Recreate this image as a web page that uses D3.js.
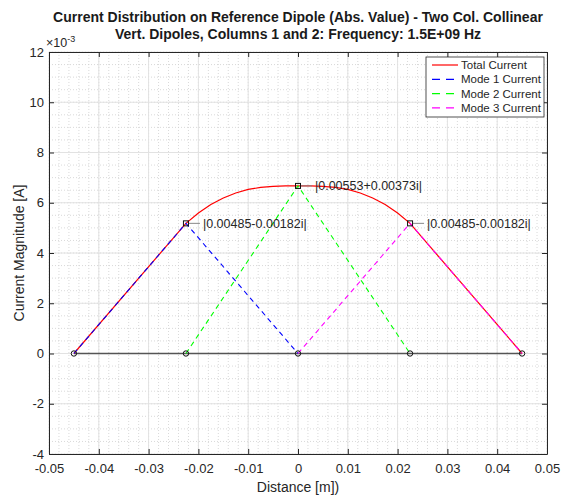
<!DOCTYPE html>
<html>
<head>
<meta charset="utf-8">
<script src="https://cdn.jsdelivr.net/npm/d3@7"></script>
<style>
body { margin: 0; background: #fff; }
text { font-family: "Liberation Sans", Arial, sans-serif; }
</style>
</head>
<body>
<div id="chart"></div>
<script>
var width = 562;
var height = 498;

// values (current in units of 1e-3 A)
var totalX = [-0.045, -0.0225, -0.02, -0.0175, -0.015, -0.0125, -0.01, -0.0075, -0.005, -0.0025, 0,
              0.0025, 0.005, 0.0075, 0.01, 0.0125, 0.015, 0.0175, 0.02, 0.0225, 0.045];
var totalY = [0, 5.18, 5.59, 5.93, 6.19, 6.39, 6.53, 6.61, 6.65, 6.67, 6.67,
              6.67, 6.65, 6.61, 6.53, 6.39, 6.19, 5.93, 5.59, 5.18, 0];
var mode1X = [-0.045, -0.0225, 0];
var mode1Y = [0, 5.18, 0];
var mode2X = [-0.0225, 0, 0.0225];
var mode2Y = [0, 6.67, 0];
var mode3X = [0, 0.0225, 0.045];
var mode3Y = [0, 5.18, 0];
var nodeX = [-0.045, -0.0225, 0, 0.0225, 0.045];
var peakX = [-0.0225, 0, 0.0225];
var peakY = [5.18, 6.67, 5.18];
var peakLabels = ["|0.00485-0.00182i|", "|0.00553+0.00373i|", "|0.00485-0.00182i|"];
var legendNames = ["Total Current", "Mode 1 Current", "Mode 2 Current", "Mode 3 Current"];
var legendColors = ["#ff0000", "#0000ff", "#00ff00", "#ff00ff"];
var xTicks = [-0.05, -0.04, -0.03, -0.02, -0.01, 0, 0.01, 0.02, 0.03, 0.04, 0.05];
var yTicks = [-4, -2, 0, 2, 4, 6, 8, 10, 12];

var pLeft = 49, pRight = 547, pTop = 52, pBottom = 454;

var xScale = d3.scaleLinear().domain([-0.05, 0.05]).range([pLeft, pRight]);
var yScale = d3.scaleLinear().domain([-4, 12]).range([pBottom, pTop]);

var svg = d3.select("#chart").append("svg")
    .attr("width", width)
    .attr("height", height);

// minor grid
var xMinor = d3.range(-50, 51, 2).map(function(d) { return d / 1000; });
var yMinor = d3.range(-8, 25, 1).map(function(d) { return d / 2; });
svg.append("g").selectAll("line").data(xMinor).enter().append("line")
    .attr("x1", function(d) { return xScale(d); })
    .attr("x2", function(d) { return xScale(d); })
    .attr("y1", pTop).attr("y2", pBottom)
    .attr("stroke", "#cfcfcf").attr("stroke-width", 0.8)
    .attr("stroke-dasharray", "1,2");
svg.append("g").selectAll("line").data(yMinor).enter().append("line")
    .attr("y1", function(d) { return yScale(d); })
    .attr("y2", function(d) { return yScale(d); })
    .attr("x1", pLeft).attr("x2", pRight)
    .attr("stroke", "#cfcfcf").attr("stroke-width", 0.8)
    .attr("stroke-dasharray", "1,2");

// major grid
svg.append("g").selectAll("line").data(xTicks).enter().append("line")
    .attr("x1", function(d) { return xScale(d); })
    .attr("x2", function(d) { return xScale(d); })
    .attr("y1", pTop).attr("y2", pBottom)
    .attr("stroke", "#e2e2e2").attr("stroke-width", 1);
svg.append("g").selectAll("line").data(yTicks).enter().append("line")
    .attr("y1", function(d) { return yScale(d); })
    .attr("y2", function(d) { return yScale(d); })
    .attr("x1", pLeft).attr("x2", pRight)
    .attr("stroke", "#e2e2e2").attr("stroke-width", 1);

// axes
function fmtX(d) { return d === 0 ? "0" : (d < 0 ? "-" : "") + Math.abs(d).toFixed(2); }
function fmtY(d) { return (d < 0 ? "-" : "") + Math.abs(d); }

var xAxis = d3.axisBottom(xScale).tickValues(xTicks).tickSizeInner(-5).tickSizeOuter(0).tickFormat(fmtX);
var yAxis = d3.axisLeft(yScale).tickValues(yTicks).tickSizeInner(-5).tickSizeOuter(0).tickFormat(fmtY);

var gx = svg.append("g").attr("transform", "translate(0," + pBottom + ")").call(xAxis);
var gy = svg.append("g").attr("transform", "translate(" + pLeft + ",0)").call(yAxis);
svg.append("g").attr("transform", "translate(0," + pTop + ")")
    .call(d3.axisTop(xScale).tickValues(xTicks).tickSizeInner(-5).tickSizeOuter(0).tickFormat(""));
svg.append("g").attr("transform", "translate(" + pRight + ",0)")
    .call(d3.axisRight(yScale).tickValues(yTicks).tickSizeInner(-5).tickSizeOuter(0).tickFormat(""));

svg.selectAll(".domain").attr("stroke", "#262626");
svg.selectAll(".tick line").attr("stroke", "#262626");
gx.selectAll("text").attr("font-size", 13).attr("fill", "#262626").attr("y", 10).attr("dy", "0.71em");
gy.selectAll("text").attr("font-size", 13).attr("fill", "#262626").attr("dx", "-2");

// lines
var line = d3.line()
    .x(function(d) { return xScale(d[0]); })
    .y(function(d) { return yScale(d[1]); });

function pairs(xs, ys) { return xs.map(function(x, i) { return [x, ys[i]]; }); }

// zero line through nodes
svg.append("path").datum(pairs([nodeX[0], nodeX[nodeX.length - 1]], [0, 0]))
    .attr("d", line).attr("fill", "none")
    .attr("stroke", "#555").attr("stroke-width", 1.5);

svg.append("path").datum(pairs(totalX, totalY))
    .attr("d", line).attr("fill", "none")
    .attr("stroke", legendColors[0]).attr("stroke-width", 1.2);

var modes = [[mode1X, mode1Y], [mode2X, mode2Y], [mode3X, mode3Y]];
modes.forEach(function(m, i) {
    svg.append("path").datum(pairs(m[0], m[1]))
        .attr("d", line).attr("fill", "none")
        .attr("stroke", legendColors[i + 1]).attr("stroke-width", 1.1)
        .attr("stroke-dasharray", "5,4");
});

// node circles
svg.append("g").selectAll("circle").data(nodeX).enter().append("circle")
    .attr("cx", function(d) { return xScale(d); })
    .attr("cy", yScale(0))
    .attr("r", 2.7)
    .attr("fill", "none").attr("stroke", "#111").attr("stroke-width", 1);

// peak markers and labels
peakX.forEach(function(x, i) {
    var px = xScale(x), py = yScale(peakY[i]);
    svg.append("line")
        .attr("x1", px + 3).attr("x2", px + 14)
        .attr("y1", py).attr("y2", py)
        .attr("stroke", "#888").attr("stroke-width", 1);
    svg.append("rect")
        .attr("x", px - 2.5).attr("y", py - 2.5)
        .attr("width", 5).attr("height", 5)
        .attr("fill", "none").attr("stroke", "#111").attr("stroke-width", 1);
    svg.append("text")
        .attr("x", px + 17).attr("y", py + 4.5)
        .attr("font-size", 12.5).attr("fill", "#262626")
        .text(peakLabels[i]);
});

// legend
var lg = svg.append("g").attr("transform", "translate(426,57)");
lg.append("rect").attr("width", 118).attr("height", 60)
    .attr("fill", "#fff").attr("stroke", "#262626").attr("stroke-width", 0.8);
legendNames.forEach(function(name, i) {
    var yy = 8 + i * 14.3;
    lg.append("line")
        .attr("x1", 6).attr("x2", 32).attr("y1", yy).attr("y2", yy)
        .attr("stroke", legendColors[i]).attr("stroke-width", 1.2)
        .attr("stroke-dasharray", i === 0 ? null : "8,6");
    lg.append("text").attr("x", 35).attr("y", yy + 4)
        .attr("font-size", 11.5).attr("fill", "#262626").text(name);
});

// titles
svg.append("text").attr("x", 298).attr("y", 22)
    .attr("text-anchor", "middle").attr("font-size", 14).attr("font-weight", "bold")
    .attr("fill", "#1a1a1a")
    .text("Current Distribution on Reference Dipole (Abs. Value) - Two Col. Collinear");
svg.append("text").attr("x", 298).attr("y", 39)
    .attr("text-anchor", "middle").attr("font-size", 14).attr("font-weight", "bold")
    .attr("fill", "#1a1a1a")
    .text("Vert. Dipoles, Columns 1 and 2: Frequency: 1.5E+09 Hz");

var ex = svg.append("text").attr("x", 46).attr("y", 47)
    .attr("font-size", 12.5).attr("fill", "#262626");
ex.append("tspan").text("\u00d710");
ex.append("tspan").attr("dy", -5).attr("font-size", 9).text("-3");

svg.append("text").attr("x", 298).attr("y", 492)
    .attr("text-anchor", "middle").attr("font-size", 14).attr("fill", "#262626")
    .text("Distance [m])");
svg.append("text")
    .attr("transform", "translate(24," + ((pTop + pBottom) / 2) + ") rotate(-90)")
    .attr("text-anchor", "middle").attr("font-size", 14).attr("fill", "#262626")
    .text("Current Magnitude [A]");
</script>
</body>
</html>
